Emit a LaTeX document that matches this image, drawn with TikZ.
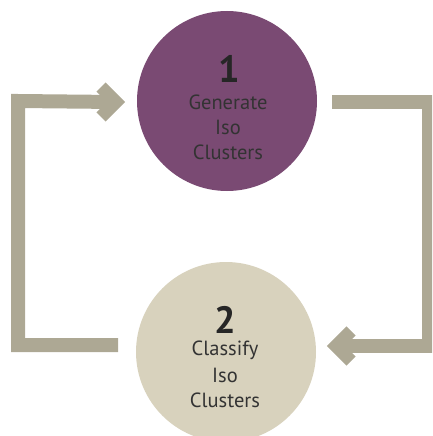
\documentclass[tikz,border=0pt]{standalone}
\usepackage{fontspec}
\setmainfont{PT Sans}
\usetikzlibrary{calc}
\definecolor{barc}{HTML}{ADA894}
\definecolor{purp}{HTML}{7A4A73}
\definecolor{beig}{HTML}{D8D2BD}
\definecolor{txtc}{HTML}{333333}
\definecolor{numc}{HTML}{262626}
\tikzset{
  circ/.style={circle, minimum size=180pt, inner sep=0pt},
  conn/.style={draw=barc, line width=14pt, line join=miter},
  chev/.style={draw=barc, line width=13pt, line join=miter},
  numtxt/.style={font=\fontsize{38}{38}\selectfont\bfseries, text=numc, inner sep=0pt},
  lbl/.style={font=\fontsize{20.5}{22}\selectfont, text=txtc, inner sep=0pt}
}
\begin{document}
\begin{tikzpicture}[x=1pt,y=-1pt]
\useasboundingbox (0,0) rectangle (432,436);
\clip (0,0) rectangle (432,436);
\node[circ, fill=purp] (c1) at (227,101) {};
\node[circ, fill=beig] (c2) at (226,352) {};
\node[numtxt] (n1) at (229,69) {1};
\node[lbl] (g1) at (228,102) {Generate};
\node[lbl] (g2) at (228,127) {Iso};
\node[lbl] (g3) at (228,152) {Clusters};
\node[numtxt] (n2) at (225,320) {2};
\node[lbl] (k1) at (225,350) {Classify};
\node[lbl] (k2) at (225,375) {Iso};
\node[lbl] (k3) at (225,400) {Clusters};
% left connector
\coordinate (ls) at (118,345);
\coordinate (lv) at (116,102);
\draw[conn] (ls) -- (18,345) -- (18,101) -- (lv);
\draw[chev] ($(lv)+(-15,-15)$) -- (lv) -- ($(lv)+(-15,15)$);
% right connector
\coordinate (rs) at (332,101.5);
\coordinate (rv) at (336,346);
\draw[conn] (rs) -- (429,101.5) -- (429,346) -- (rv);
\draw[chev] ($(rv)+(15,-15)$) -- (rv) -- ($(rv)+(15,15)$);
\end{tikzpicture}
\end{document}
